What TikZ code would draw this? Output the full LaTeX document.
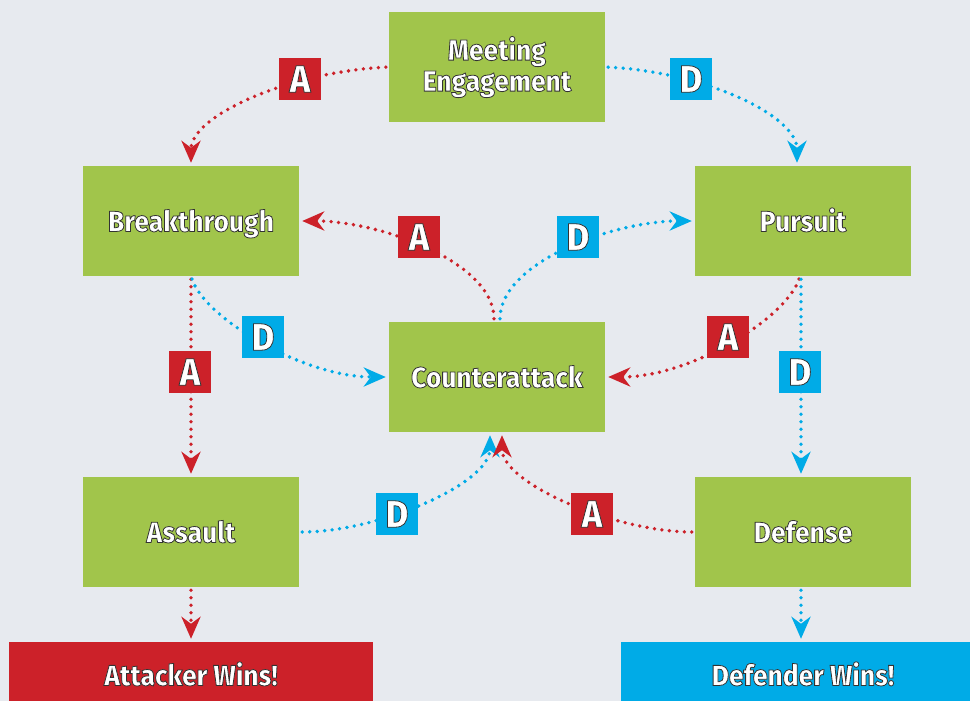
\documentclass[tikz,border=0pt]{standalone}
\usepackage{fontspec}
\setmainfont{Fira Sans}
\newfontfamily\boxfont[FakeStretch=0.91]{Fira Sans ExtraBold}
\usetikzlibrary{arrows.meta}
\definecolor{bgc}{HTML}{E7EAEF}
\definecolor{grn}{HTML}{A1C54B}
\definecolor{redc}{HTML}{CC2129}
\definecolor{bluec}{HTML}{00ABE7}
\newcommand\stx[1]{\special{pdf:literal direct 2 Tr 0.8 w 0.2 0.2 0.2 RG}#1\special{pdf:literal direct 0 Tr}}
\begin{document}
\begin{tikzpicture}[x=1pt,y=-1pt,
  stage/.style={fill=grn, minimum width=216pt, minimum height=110pt, inner sep=0pt, text=white,
    font=\boxfont\fontsize{29}{31}\selectfont, align=center},
  single/.style={text height=21pt, text depth=0pt},
  win/.style={minimum width=364pt, minimum height=66pt, inner sep=0pt, text=white,
    text height=21pt, text depth=0pt,
    font=\boxfont\fontsize{29}{33}\selectfont},
  tag/.style={minimum size=42pt, inner sep=0pt, text=white,
    font=\boxfont\fontsize{38}{38}\selectfont},
  atag/.style={tag, fill=redc},
  dtag/.style={tag, fill=bluec},
  conn/.style={line width=3.8pt, dash pattern=on 0pt off 7.5pt, line cap=round,
    shorten <=3pt, shorten >=3pt, -{Stealth[length=22pt,width=19pt,inset=7pt]}},
  ra/.style={conn, draw=redc},
  da/.style={conn, draw=bluec}]
\fill[bgc] (0,0) rectangle (970,701);
\useasboundingbox (0,0) rectangle (970,701);

\node[stage] (me) at (497,67) {\stx{Meeting}\\\stx{Engagement}};
\node[stage, single] (bt) at (191,221) {\stx{Breakthrough}};
\node[stage, single] (pu) at (803,221) {\stx{Pursuit}};
\node[stage, single] (ca) at (497,377) {\stx{Counterattack}};
\node[stage, single] (as) at (191,532) {\stx{Assault}};
\node[stage, single] (de) at (803,532) {\stx{Defense}};
\node[win, fill=redc] (aw) at (191,675) {\stx{Attacker Wins!}};
\node[win, fill=bluec] (dw) at (803,675) {\stx{Defender Wins!}};

% connectors
\draw[ra] (me.west) .. controls +(-100,5) and +(0,-50) .. (bt.north);
\draw[da] (me.east) .. controls +(100,5) and +(0,-50) .. ([xshift=-6pt]pu.north);
\draw[ra] ([xshift=-3pt]ca.north) .. controls +(0,-60) and +(80,0) .. (bt.east);
\draw[da] ([xshift=3pt]ca.north) .. controls +(0,-60) and +(-80,0) .. (pu.west);
\draw[ra] (bt.south) -- (as.north);
\draw[da] (bt.south) .. controls +(14,42) and +(-86,0) .. (ca.west);
\draw[ra] ([xshift=-3pt]pu.south) .. controls +(-14,42) and +(86,0) .. (ca.east);
\draw[da] ([xshift=-2pt]pu.south) -- ([xshift=-2pt]de.north);
\draw[da] (as.east) .. controls +(78,0) and +(0,52) .. ([xshift=-7pt]ca.south);
\draw[ra] (de.west) .. controls +(-78,0) and +(0,52) .. ([xshift=5pt]ca.south);
\draw[ra] (as.south) -- (aw.north);
\draw[da] ([xshift=-2pt]de.south) -- ([xshift=-2pt]dw.north);

% tags
\node[atag] (t1) at (300,79) {\stx{A}};
\node[dtag] (t2) at (691,79) {\stx{D}};
\node[atag] (t3) at (419,237) {\stx{A}};
\node[dtag] (t4) at (578,237) {\stx{D}};
\node[dtag] (t5) at (263,337) {\stx{D}};
\node[atag] (t6) at (190,372) {\stx{A}};
\node[atag] (t7) at (728,337) {\stx{A}};
\node[dtag] (t8) at (800,372) {\stx{D}};
\node[dtag] (t9) at (397,514) {\stx{D}};
\node[atag] (t10) at (592,514) {\stx{A}};
\end{tikzpicture}
\end{document}
